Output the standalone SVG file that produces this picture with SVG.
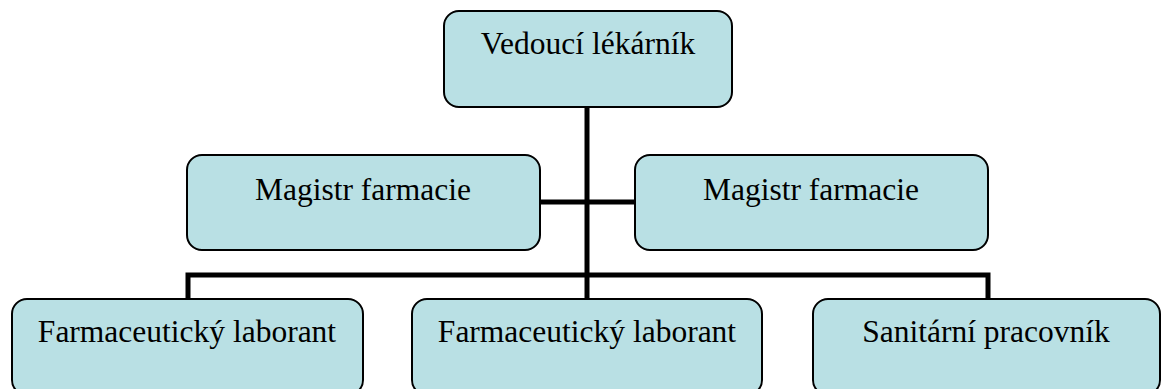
<svg xmlns="http://www.w3.org/2000/svg" width="1161" height="389" viewBox="0 0 1161 389">
<style>
.box{fill:#b9e0e4;stroke:#000;stroke-width:2}
.lbl{font-family:"Liberation Serif","Times New Roman",serif;font-size:31.5px;fill:#000;text-anchor:middle}
.conn{stroke:#000;stroke-width:5;fill:none}
</style>
<rect width="1161" height="389" fill="#fff"/>
<g id="connectors">
<path class="conn" d="M587,107 V277"/>
<path class="conn" d="M540,202 H635"/>
<path class="conn" d="M188,299 V275 H988 V299"/>
<path class="conn" d="M587,275 V299"/>
</g>
<g id="n-vedouci">
<rect class="box" x="444" y="11" width="288" height="96" rx="15"/>
<text class="lbl" x="588" y="54">Vedoucí lékárník</text>
</g>
<g id="n-magistr1">
<rect class="box" x="187" y="155" width="353" height="95" rx="15"/>
<text class="lbl" x="363" y="200">Magistr farmacie</text>
</g>
<g id="n-magistr2">
<rect class="box" x="635" y="155" width="353" height="95" rx="15"/>
<text class="lbl" x="811" y="200">Magistr farmacie</text>
</g>
<g id="n-laborant1">
<rect class="box" x="12" y="299" width="351" height="96" rx="15"/>
<text class="lbl" x="187" y="342">Farmaceutický laborant</text>
</g>
<g id="n-laborant2">
<rect class="box" x="412" y="299" width="350" height="96" rx="15"/>
<text class="lbl" x="587" y="342">Farmaceutický laborant</text>
</g>
<g id="n-sanitarni">
<rect class="box" x="813" y="299" width="347" height="96" rx="15"/>
<text class="lbl" x="986" y="342">Sanitární pracovník</text>
</g>
</svg>
